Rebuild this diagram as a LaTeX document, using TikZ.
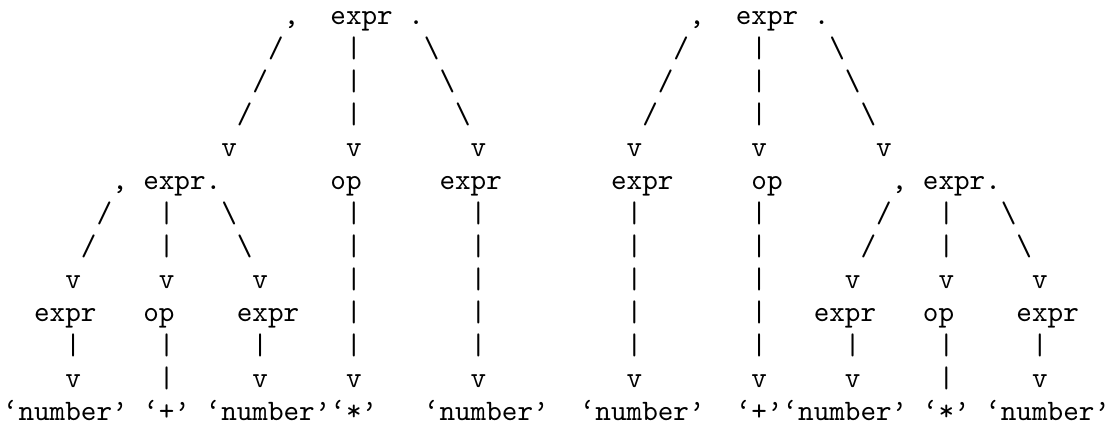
\documentclass[tikz,border=0pt]{standalone}
\begin{document}
\begin{tikzpicture}[
  tk/.style={anchor=base west, inner sep=0pt, outer sep=0pt, font=\ttfamily}
]
\useasboundingbox (0,0) rectangle (374.75pt,-143.7pt);
\newcommand\tk[3]{\node[tk] (t#2-#1) at ({1pt+#1*5.25pt},{-8.4pt-#2*11.1pt}) {#3};}
\newcommand\bs{\textbackslash}
\newcommand\qq[1]{\textquoteleft#1\textquoteright}
% row 0
\tk{18}{0}{,} \tk{21}{0}{expr} \tk{26}{0}{.}
\tk{44}{0}{,} \tk{47}{0}{expr} \tk{52}{0}{.}
% rows 1-3
\tk{17}{1}{/} \tk{22}{1}{|} \tk{27}{1}{\bs}
\tk{43}{1}{/} \tk{48}{1}{|} \tk{53}{1}{\bs}
\tk{16}{2}{/} \tk{22}{2}{|} \tk{28}{2}{\bs}
\tk{42}{2}{/} \tk{48}{2}{|} \tk{54}{2}{\bs}
\tk{15}{3}{/} \tk{22}{3}{|} \tk{29}{3}{\bs}
\tk{41}{3}{/} \tk{48}{3}{|} \tk{55}{3}{\bs}
% row 4
\foreach \c in {14,22,30,40,48,56} {\tk{\c}{4}{v}}
% row 5
\tk{7}{5}{,} \tk{9}{5}{expr} \tk{13}{5}{.}
\tk{21}{5}{op} \tk{28}{5}{expr}
\tk{39}{5}{expr} \tk{48}{5}{op}
\tk{57}{5}{,} \tk{59}{5}{expr} \tk{63}{5}{.}
% rows 6-7
\tk{6}{6}{/} \tk{10}{6}{|} \tk{14}{6}{\bs}
\tk{56}{6}{/} \tk{60}{6}{|} \tk{64}{6}{\bs}
\tk{5}{7}{/} \tk{10}{7}{|} \tk{15}{7}{\bs}
\tk{55}{7}{/} \tk{60}{7}{|} \tk{65}{7}{\bs}
% long verticals
\foreach \r in {6,...,10} {\foreach \c in {22,30,40,48} {\tk{\c}{\r}{|}}}
% row 8
\foreach \c in {4,10,16,54,60,66} {\tk{\c}{8}{v}}
% row 9
\tk{2}{9}{expr} \tk{9}{9}{op} \tk{15}{9}{expr}
\tk{52}{9}{expr} \tk{59}{9}{op} \tk{65}{9}{expr}
% row 10
\foreach \c in {4,10,16,54,60,66} {\tk{\c}{10}{|}}
% row 11
\foreach \c in {4,16,22,30,40,48,54,66} {\tk{\c}{11}{v}}
\tk{10}{11}{|} \tk{60}{11}{|}
% row 12
\tk{0}{12}{\qq{number}} \tk{9}{12}{\qq{+}} \tk{13}{12}{\qq{number}}
\tk{21}{12}{\qq{*}} \tk{27}{12}{\qq{number}}
\tk{37}{12}{\qq{number}} \tk{47}{12}{\qq{+}} \tk{50}{12}{\qq{number}}
\tk{59}{12}{\qq{*}} \tk{63}{12}{\qq{number}}
\end{tikzpicture}
\end{document}
